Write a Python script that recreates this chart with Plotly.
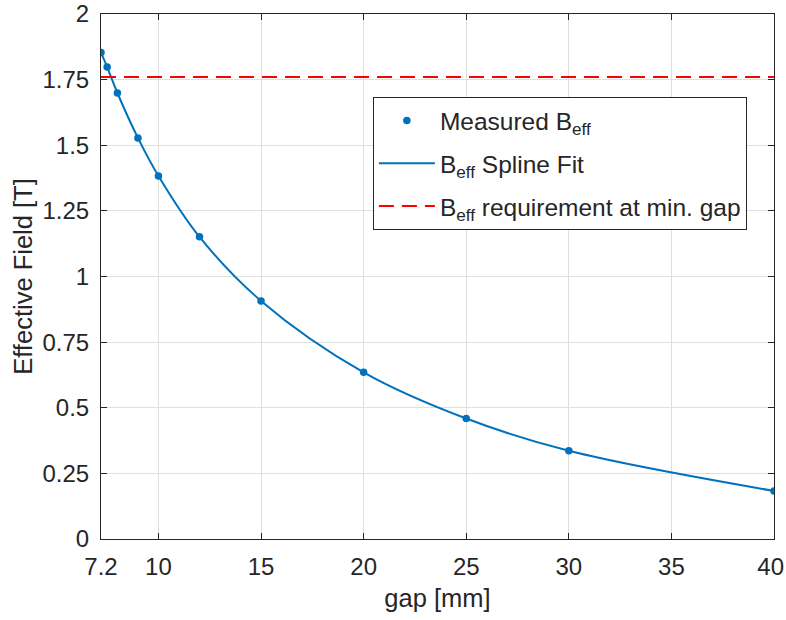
import plotly.graph_objects as go

# Data
gap_mm = [7.2, 7.5, 8, 9, 10, 12, 15, 20, 25, 30, 40]
b_eff = [1.853, 1.798, 1.699, 1.528, 1.383, 1.151, 0.907, 0.635, 0.459, 0.336, 0.183]
b_req = 1.76
x_ticks = [7.2, 10, 15, 20, 25, 30, 35, 40]
x_ticklabels = ["7.2", "10", "15", "20", "25", "30", "35", "40\u00a0"]
y_ticks = [0, 0.25, 0.5, 0.75, 1, 1.25, 1.5, 1.75, 2]
y_ticklabels = ["0", "0.25", "0.5", "0.75", "1", "1.25", "1.5", "1.75", "2"]

blue = "#0072BD"
red = "#FF0000"
axis_col = "#262626"
grid_col = "#DFDFDF"
font_family = "Liberation Sans, Arial, Helvetica, sans-serif"

fig = go.Figure()

fig.add_trace(go.Scatter(
    x=gap_mm, y=b_eff, mode="markers",
    marker=dict(color=blue, size=7.5),
    name="Measured B<sub>eff</sub>", legendgroup="a",
))
fig.add_trace(go.Scatter(
    x=gap_mm, y=b_eff, mode="lines",
    line=dict(color=blue, width=2, shape="spline", smoothing=1.0),
    name="B<sub>eff</sub> Spline Fit", legendgroup="b",
))
fig.add_trace(go.Scatter(
    x=[min(gap_mm), max(gap_mm)], y=[b_req, b_req], mode="lines",
    line=dict(color=red, width=2, dash="15px,8px"),
    name="B<sub>eff</sub> requirement at min. gap", legendgroup="c",
))

axis_common = dict(
    showline=True, linecolor=axis_col, linewidth=1, mirror="ticks",
    ticks="inside", ticklen=6, tickcolor=axis_col, tickwidth=1,
    showgrid=True, gridcolor=grid_col, gridwidth=1,
    zeroline=False, automargin=False, ticklabeloverflow="allow",
    tickfont=dict(family=font_family, size=24, color=axis_col),
    title_font=dict(family=font_family, size=25.5, color=axis_col),
)

fig.update_xaxes(
    range=[7.2, 40], tickvals=x_ticks, ticktext=x_ticklabels,
    ticklabelstandoff=6,
    title_text="gap [mm]", title_standoff=10, **axis_common,
)
fig.update_yaxes(
    range=[0, 2], tickvals=y_ticks, ticktext=y_ticklabels,
    ticklabelstandoff=6,
    title_text="Effective Field [T]", title_standoff=2, **axis_common,
)

fig.update_layout(
    width=786, height=620,
    margin=dict(l=101, r=12, t=14, b=81),
    paper_bgcolor="white", plot_bgcolor="white",
    font=dict(family=font_family, size=24, color=axis_col),
    showlegend=True,
    legend=dict(
        x=0.404, y=0.842, xanchor="left", yanchor="top",
        bgcolor="white", bordercolor=axis_col, borderwidth=1,
        font=dict(family=font_family, size=24.5, color=axis_col),
        tracegroupgap=8, itemwidth=56,
    ),
)

# Remove the page's default body margin so the figure fills the window.
fig.write_html(
    "out.html",
    config={"displayModeBar": False},
    post_script="document.body.style.margin='0';",
)
